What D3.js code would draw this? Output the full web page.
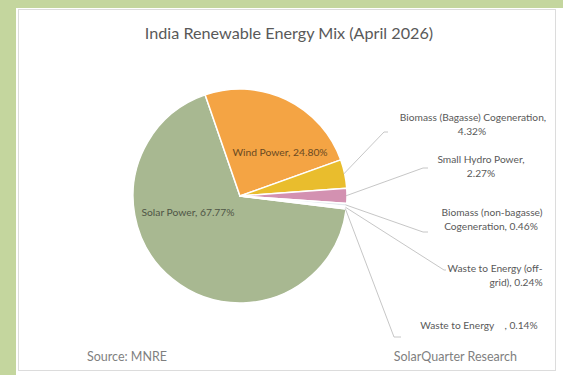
<!DOCTYPE html>
<html><head><meta charset="utf-8">
<script src="https://cdn.jsdelivr.net/npm/d3@7"></script>
<style>body{margin:0;background:#fff}svg{display:block}text{font-family:Lato,"Open Sans",sans-serif}</style>
</head><body><svg id="c" width="563" height="375"></svg>
<script>
// ---- data ----
const categories = ["Solar Power","Wind Power","Biomass (Bagasse) Cogeneration","Small Hydro Power","Biomass (non-bagasse) Cogeneration","Waste to Energy (off-grid)","Waste to Energy"];
const shares = [67.77, 24.80, 4.32, 2.27, 0.46, 0.24, 0.14];
const labelLines = [
  ["Solar Power, 67.77%"],
  ["Wind Power, 24.80%"],
  ["Biomass (Bagasse) Cogeneration,", "4.32%"],
  ["Small Hydro Power,", "2.27%"],
  ["Biomass (non-bagasse)", "Cogeneration, 0.46%"],
  ["Waste to Energy (off-", "grid), 0.24%"],
  ["Waste to Energy    , 0.14%"]
];
const title = "India Renewable Energy Mix (April 2026)";
const sourceText = "Source: MNRE";
const creditText = "SolarQuarter Research";

// ---- styles / layout ----
const colors = ["#a8b891","#f4a444","#e9bd2d","#d391b1","#e2e9ee","#d3dee5","#c4d2db"];
const W = 563, H = 375;
const cx = 240, cy = 196, R = 107;
const startDeg = 97;
const outside = {
  2: {lines:[[473,117],[472,131]], end:[384,132], tick:[388,132]},
  3: {lines:[[481,159],[481,173]], end:[423,168], tick:[428,168]},
  4: {lines:[[492,212],[491,226]], end:[423,232], tick:[428,232]},
  5: {lines:[[495,268],[516,282]], end:[444,270], tick:[446,270]},
  6: {lines:[[479,325]], end:[394,337], tick:[401,337]}
};
const inside = {0:[188,212], 1:[280,152]};

const svg = d3.select("#c");
svg.append("rect").attr("x",0).attr("y",0).attr("width",W).attr("height",8).attr("fill","#c4d69e");
svg.append("rect").attr("x",0).attr("y",0).attr("width",16).attr("height",H).attr("fill","#c4d69e");
svg.append("rect").attr("x",18.5).attr("y",9.5).attr("width",537).attr("height",361).attr("fill","#fff").attr("stroke","#dcdcdc");

svg.append("text").attr("x",289).attr("y",39).attr("text-anchor","middle")
  .attr("font-size",16.2).attr("fill","#595959").text(title);

const pie = d3.pie().sort(null).value(d=>d)
  .startAngle(startDeg*Math.PI/180).endAngle(startDeg*Math.PI/180+2*Math.PI);
const arcs = pie(shares);
const arc = d3.arc().innerRadius(0).outerRadius(R);
const g = svg.append("g").attr("transform",`translate(${cx},${cy})`);
g.selectAll("path").data(arcs).join("path")
  .attr("d",arc).attr("fill",(d,i)=>colors[i])
  .attr("stroke","#fff").attr("stroke-width",1.5).attr("stroke-linejoin","round");

const inCol = ["#4f5546","#6a4a22"];
const inSize = [10.3, 10.3];
[0,1].forEach(i=>{
  svg.append("text").attr("x",inside[i][0]).attr("y",inside[i][1]+3.5)
    .attr("text-anchor","middle").attr("font-size",inSize[i]).attr("fill",inCol[i])
    .text(labelLines[i][0]);
});

Object.keys(outside).forEach(k=>{
  const i = +k, a = arcs[i], o = outside[k];
  const mid = (a.startAngle+a.endAngle)/2;
  const sx = cx + (R-1)*Math.sin(mid), sy = cy - (R-1)*Math.cos(mid);
  svg.append("polyline")
    .attr("points",`${sx},${sy} ${o.end[0]},${o.end[1]} ${o.tick[0]},${o.tick[1]}`)
    .attr("fill","none").attr("stroke","#bfbfbf").attr("stroke-width",0.9);
  labelLines[i].forEach((ln,j)=>{
    svg.append("text").attr("x",o.lines[j][0]).attr("y",o.lines[j][1]+3.5)
      .attr("text-anchor","middle").attr("font-size",10.2).attr("fill","#595959")
      .attr("xml:space","preserve").style("white-space","pre").text(ln);
  });
});

svg.append("text").attr("x",87).attr("y",361).attr("font-size",12.5).attr("fill","#7f7f7f").text(sourceText);
svg.append("text").attr("x",517).attr("y",361).attr("text-anchor","end").attr("font-size",12.5).attr("fill","#7f7f7f").text(creditText);
</script></body></html>
